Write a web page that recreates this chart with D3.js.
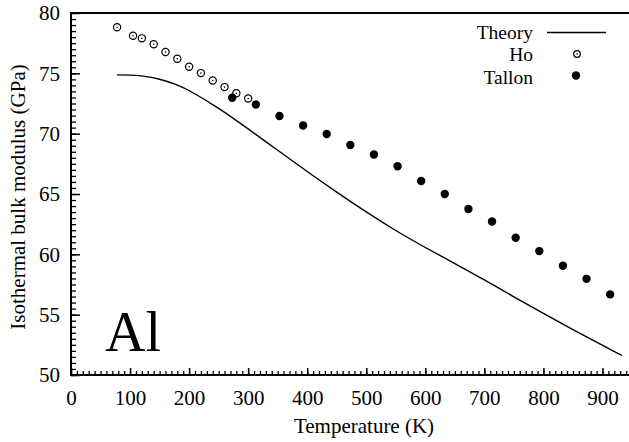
<!DOCTYPE html>
<html>
<head>
<meta charset="utf-8">
<script src="https://cdn.jsdelivr.net/npm/d3@7"></script>
<style>
  body { margin: 0; background: #fff; }
  svg { display: block; }
</style>
</head>
<body>
<div id="chart"></div>
<script>
// values
const theoryT = [78, 100, 120, 150, 180, 200, 250, 300, 350, 400, 450, 500, 550, 600, 650, 700, 750, 800, 850, 900, 933];
const theoryB = [74.87, 74.86, 74.8, 74.55, 74.05, 73.6, 72.15, 70.4, 68.62, 66.86, 65.15, 63.5, 61.95, 60.55, 59.25, 57.88, 56.48, 55.1, 53.75, 52.45, 51.62];

const hoT = [78, 105, 120, 140, 160, 180, 200, 220, 240, 260, 280, 300];
const hoB = [78.82, 78.12, 77.9, 77.41, 76.77, 76.21, 75.55, 75.02, 74.4, 73.86, 73.35, 72.92];

const tallonT = [273, 313, 353, 393, 433, 473, 513, 553, 593, 633, 673, 713, 753, 793, 833, 873, 913];
const tallonB = [72.98, 72.42, 71.47, 70.68, 69.97, 69.06, 68.27, 67.3, 66.08, 65.0, 63.76, 62.72, 61.37, 60.27, 59.05, 57.97, 56.68];

const xTicks = [0, 100, 200, 300, 400, 500, 600, 700, 800, 900];
const yTicks = [50, 55, 60, 65, 70, 75, 80];
const legendNames = ['Theory', 'Ho', 'Tallon'];

const width = 629;
const height = 442;
const plotLeft = 71, plotTop = 13, plotBottom = 375;
const serif = "'Liberation Serif', 'Times New Roman', serif";

const svg = d3.select('#chart')
    .append('svg')
    .attr('width', width)
    .attr('height', height);

const x = d3.scaleLinear().domain([0, 950]).range([plotLeft, 632]);
const y = d3.scaleLinear().domain([50, 80]).range([plotBottom, plotTop]);

const zip = (a, b) => a.map((v, i) => [v, b[i]]);

// minor ticks
svg.append('g')
    .attr('transform', `translate(0,${plotBottom})`)
    .call(d3.axisBottom(x).tickValues(d3.range(0, 951, 10)).tickSize(-4).tickFormat(''))
    .call(g => g.select('.domain').remove())
    .call(g => g.selectAll('line').attr('stroke-width', 1.3));

svg.append('g')
    .attr('transform', `translate(${plotLeft},0)`)
    .call(d3.axisLeft(y).tickValues(d3.range(50, 80.01, 0.5)).tickSize(-5).tickFormat(''))
    .call(g => g.select('.domain').remove())
    .call(g => g.selectAll('line').attr('stroke-width', 1.3));

// major ticks + labels
svg.append('g')
    .attr('transform', `translate(0,${plotBottom})`)
    .call(d3.axisBottom(x).tickValues(xTicks).tickSize(-7).tickPadding(15))
    .call(g => g.select('.domain').remove())
    .call(g => g.selectAll('line').attr('stroke-width', 1.5))
    .call(g => g.selectAll('text')
	  .style('font-family', serif)
	  .style('font-size', '21px')
	  .attr('fill', '#000'));

svg.append('g')
    .attr('transform', `translate(${plotLeft},0)`)
    .call(d3.axisLeft(y).tickValues(yTicks).tickSize(-9).tickPadding(11))
    .call(g => g.select('.domain').remove())
    .call(g => g.selectAll('line').attr('stroke-width', 1.5))
    .call(g => g.selectAll('text')
	  .style('font-family', serif)
	  .style('font-size', '21px')
	  .attr('fill', '#000'));

// frame: left, bottom, top (no right border in the figure)
svg.append('path')
    .attr('d', `M${x(950)},${plotTop}H${plotLeft}V${plotBottom}H${x(950)}`)
    .attr('fill', 'none')
    .attr('stroke', '#000')
    .attr('stroke-width', 2);

// theory curve
const line = d3.line()
    .x(d => x(d[0]))
    .y(d => y(d[1]))
    .curve(d3.curveBasis);

svg.append('path')
    .datum(zip(theoryT, theoryB))
    .attr('d', line)
    .attr('fill', 'none')
    .attr('stroke', '#000')
    .attr('stroke-width', 1.4);

// Ho: open circle with dot
const ho = svg.append('g')
    .selectAll('g')
    .data(zip(hoT, hoB))
    .join('g')
    .attr('transform', d => `translate(${x(d[0])},${y(d[1])})`);

ho.append('circle')
    .attr('r', 3.6)
    .attr('fill', '#fff')
    .attr('stroke', '#000')
    .attr('stroke-width', 1.2);
ho.append('circle')
    .attr('r', 0.8)
    .attr('fill', '#000');

// Tallon: filled circles
svg.append('g')
    .selectAll('circle')
    .data(zip(tallonT, tallonB))
    .join('circle')
    .attr('cx', d => x(d[0]))
    .attr('cy', d => y(d[1]))
    .attr('r', 4.2)
    .attr('fill', '#000');

// legend
const legend = svg.append('g');

legend.selectAll('text')
    .data(legendNames)
    .join('text')
    .attr('x', 533)
    .attr('y', (d, i) => [38.5, 61, 83.5][i])
    .attr('text-anchor', 'end')
    .style('font-family', serif)
    .style('font-size', '19.5px')
    .text(d => d);

legend.append('line')
    .attr('x1', 547).attr('x2', 606)
    .attr('y1', 32.5).attr('y2', 32.5)
    .attr('stroke', '#000')
    .attr('stroke-width', 1.4);

legend.append('circle')
    .attr('cx', 577).attr('cy', 54)
    .attr('r', 3.3)
    .attr('fill', '#fff')
    .attr('stroke', '#000')
    .attr('stroke-width', 1.2);
legend.append('circle')
    .attr('cx', 577).attr('cy', 54)
    .attr('r', 0.8)
    .attr('fill', '#000');
legend.append('circle')
    .attr('cx', 576).attr('cy', 75.5)
    .attr('r', 4.2)
    .attr('fill', '#000');

// axis titles
svg.append('text')
    .attr('x', 364)
    .attr('y', 433)
    .attr('text-anchor', 'middle')
    .style('font-family', serif)
    .style('font-size', '21px')
    .text('Temperature (K)');

svg.append('text')
    .attr('transform', `translate(25,197) rotate(-90)`)
    .attr('text-anchor', 'middle')
    .style('font-family', serif)
    .style('font-size', '21px')
    .text('Isothermal bulk modulus (GPa)');

// panel label
svg.append('text')
    .attr('x', 105)
    .attr('y', 351)
    .style('font-family', serif)
    .style('font-size', '56px')
    .text('Al');
</script>
</body>
</html>
